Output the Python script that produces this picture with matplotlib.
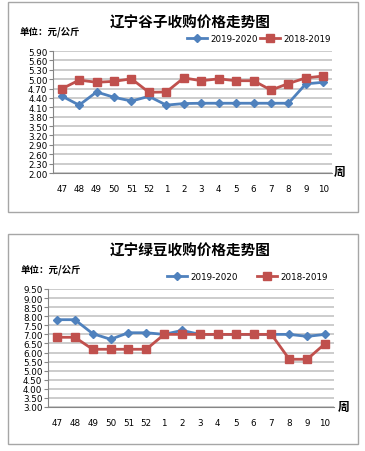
import matplotlib.pyplot as plt
from matplotlib.patches import Rectangle

plt.rcParams['font.family'] = ['Noto Sans CJK SC', 'DejaVu Sans']

weeks = ['47', '48', '49', '50', '51', '52', '1', '2', '3', '4', '5', '6', '7', '8', '9', '10']

# 谷子
millet_1920 = [4.46, 4.17, 4.59, 4.42, 4.30, 4.45, 4.17, 4.22, 4.23, 4.23, 4.23, 4.23, 4.23, 4.23, 4.85, 4.90]
millet_1819 = [4.69, 4.97, 4.90, 4.93, 5.01, 4.58, 4.59, 5.04, 4.95, 5.01, 4.95, 4.95, 4.65, 4.86, 5.04, 5.10]
millet_ticks = [2.00, 2.30, 2.60, 2.90, 3.20, 3.50, 3.80, 4.10, 4.40, 4.70, 5.00, 5.30, 5.60, 5.90]

# 绿豆
mung_1920 = [7.81, 7.81, 7.04, 6.73, 7.09, 7.09, 7.00, 7.22, 7.00, 7.00, 7.00, 7.00, 7.00, 7.00, 6.89, 7.00]
mung_1819 = [6.84, 6.84, 6.18, 6.18, 6.18, 6.18, 7.00, 7.00, 7.00, 7.00, 7.00, 7.00, 7.00, 5.63, 5.63, 6.49]
mung_ticks = [3.00, 3.50, 4.00, 4.50, 5.00, 5.50, 6.00, 6.50, 7.00, 7.50, 8.00, 8.50, 9.00, 9.50]

BLUE = '#4F81BD'
RED = '#C0504D'
W, H = 365, 452

fig = plt.figure(figsize=(W / 100, H / 100), dpi=100)
fig.patch.set_facecolor('white')


def fx(px):
    return px / W


def fy(py):
    return 1 - py / H


def panel(frame_top, frame_bot, ax_box, title, title_y, unit_y, unit_x, leg, s1, s2, ticks, zhou_xy):
    fig.add_artist(Rectangle((fx(8), fy(frame_bot)), fx(350), (frame_bot - frame_top) / H,
                             transform=fig.transFigure, fill=False, edgecolor='#A6A6A6', lw=1.0))
    l, r, t, b = ax_box
    ax = fig.add_axes([fx(l), fy(b), fx(r - l), (b - t) / H])
    x = range(len(weeks))
    ax.plot(x, s1, color=BLUE, lw=2, marker='D', ms=4.2, zorder=3)
    ax.plot(x, s2, color=RED, lw=2, marker='s', ms=6, zorder=4)
    ax.set_xlim(-0.5, len(weeks) - 0.5)
    ax.set_ylim(ticks[0], ticks[-1])
    ax.set_yticks(ticks)
    ax.set_yticklabels(['%.2f' % v for v in ticks], fontsize=6.3, family='DejaVu Sans')
    ax.set_xticks(list(x))
    ax.set_xticklabels(weeks, fontsize=6.3, family='DejaVu Sans')
    ax.tick_params(axis='x', length=0, pad=8)
    ax.tick_params(axis='y', length=3, width=0.8, color='#868686', pad=1)
    ax.grid(axis='y', color='#C8C8C8', lw=1.3)
    ax.set_axisbelow(True)
    for s in ['top', 'right']:
        ax.spines[s].set_visible(False)
    ax.spines['left'].set_color('#868686')
    ax.spines['bottom'].set_color('#868686')
    fig.text(fx(190), fy(title_y), title, fontsize=10.5, fontweight='bold', ha='center', va='center')
    fig.text(fx(unit_x), fy(unit_y), '单位：元/公斤', fontsize=6.8, fontweight='bold', ha='left', va='center')
    (b1, b2), (r1, r2), ly = leg
    fig.add_artist(plt.Line2D([fx(b1), fx((b1 + b2) / 2), fx(b2)], [fy(ly)] * 3, color=BLUE, lw=2,
                              marker='D', ms=4.2, markevery=[1], transform=fig.transFigure))
    fig.add_artist(plt.Line2D([fx(r1), fx((r1 + r2) / 2), fx(r2)], [fy(ly)] * 3, color=RED, lw=2,
                              marker='s', ms=6, markevery=[1], transform=fig.transFigure))
    fig.text(fx(b2 + 3), fy(ly), '2019-2020', fontsize=6.3, family='DejaVu Sans', ha='left', va='center')
    fig.text(fx(r2 + 3), fy(ly), '2018-2019', fontsize=6.3, family='DejaVu Sans', ha='left', va='center')
    fig.text(fx(zhou_xy[0]), fy(zhou_xy[1]), '周', fontsize=8.5, fontweight='bold', ha='center', va='center')


panel(3, 213, (53, 332, 52, 174), '辽宁谷子收购价格走势图', 23, 32, 20,
      ((187, 207), (260, 280), 39), millet_1920, millet_1819, millet_ticks, (340, 172))
panel(235, 445, (48, 334, 290, 408), '辽宁绿豆收购价格走势图', 251, 270, 21,
      ((167, 187), (257, 277), 277), mung_1920, mung_1819, mung_ticks, (344, 407))

fig.savefig('out.png', dpi=100)
